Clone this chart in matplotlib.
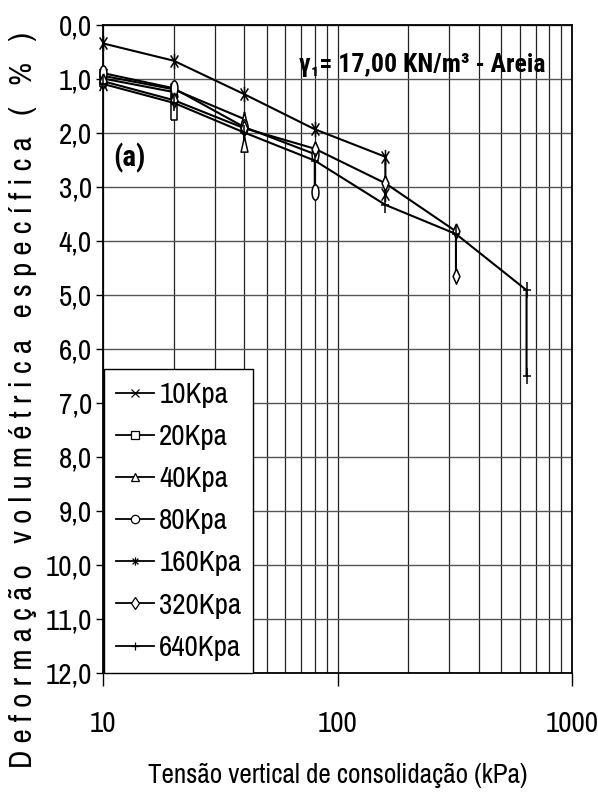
import numpy as np
import matplotlib
matplotlib.use("Agg")
import matplotlib.pyplot as plt
from matplotlib.path import Path
from matplotlib.lines import Line2D
from matplotlib.transforms import Affine2D

FONT = ['Archivo Narrow', 'Liberation Sans', 'DejaVu Sans']
BOLD = ['Roboto Condensed', 'Asap Condensed', 'DejaVu Sans']
plt.rcParams['font.family'] = FONT

# ---------------- data ----------------
labels = ['10Kpa', '20Kpa', '40Kpa', '80Kpa', '160Kpa', '320Kpa', '640Kpa']
x10 = [10, 10];                      y10 = [0.95, 1.08]
x20 = [10, 20, 20];                  y20 = [1.00, 1.25, 1.62]
x40 = [10, 20, 40, 40];              y40 = [0.95, 1.20, 1.75, 2.22]
x80 = [10, 20, 40, 80, 80];          y80 = [0.90, 1.18, 1.90, 2.40, 3.10]
x160 = [10, 20, 40, 80, 160, 160];   y160 = [0.35, 0.67, 1.29, 1.94, 2.45, 3.13]
x320 = [10, 20, 40, 80, 160, 320, 320];        y320 = [1.05, 1.40, 1.92, 2.30, 2.94, 3.83, 4.65]
x640 = [10, 20, 40, 80, 160, 320, 640, 640];   y640 = [1.10, 1.45, 2.00, 2.52, 3.34, 3.88, 4.92, 6.50]
ytick_vals = list(range(0, 13))
ytick_labels = [f"{v},0" for v in ytick_vals]
xtick_vals = [10, 100, 1000]
xtick_labels = ['10', '100', '1000']

# ---------------- markers ----------------
M, L = Path.MOVETO, Path.LINETO
w = 0.5
mk_x = Path([(-w, -1), (w, 1), (-w, 1), (w, -1)], [M, L, M, L])
mk_star = Path([(-w, -0.8), (w, 0.8), (-w, 0.8), (w, -0.8), (0, -1), (0, 1)], [M, L, M, L, M, L])
mk_plus = Path([(0, -1), (0, 1), (-w, 0), (w, 0)], [M, L, M, L])
mk_sq = Path([(-0.42, -1), (0.42, -1), (0.42, 1), (-0.42, 1), (-0.42, -1)])
mk_tri = Path([(0, 1), (0.45, -1), (-0.45, -1), (0, 1)])
mk_dia = Path([(0, 1), (0.45, 0), (0, -1), (-0.45, 0), (0, 1)])
mk_ell = Affine2D().scale(0.45, 1).transform_path(Path.unit_circle())
mk_star_eq = Path([(-0.7, -0.7), (0.7, 0.7), (-0.7, 0.7), (0.7, -0.7), (0, -1), (0, 1)], [M, L, M, L, M, L])

series = [
    (x10, y10, mk_x, 'x'),
    (x20, y20, mk_sq, 's'),
    (x40, y40, mk_tri, '^'),
    (x80, y80, mk_ell, 'o'),
    (x160, y160, mk_star, mk_star_eq),
    (x320, y320, mk_dia, 'd'),
    (x640, y640, mk_plus, '+'),
]

fig = plt.figure(figsize=(5.98, 7.96), dpi=100)
ax = fig.add_axes([103 / 598, 1 - 672.5 / 796, (572 - 103) / 598, (672.5 - 24.5) / 796])

ax.set_xscale('log')
ax.set_xlim(10, 1000)
ax.set_ylim(12, 0)

ax.set_yticks(ytick_vals)
ax.set_yticklabels(ytick_labels)
ax.set_xticks(xtick_vals)
ax.set_xticklabels(xtick_labels)
ax.xaxis.set_minor_locator(matplotlib.ticker.LogLocator(base=10, subs=np.arange(2, 10)))
ax.xaxis.set_minor_formatter(matplotlib.ticker.NullFormatter())
ax.grid(True, which='both', axis='x', color='#222222', lw=0.9)
ax.grid(True, which='major', axis='y', color='#555555', lw=1.0)
ax.set_axisbelow(True)

ax.tick_params(axis='y', which='major', direction='out', length=5, width=1, labelsize=21, pad=3)
ax.tick_params(axis='x', which='major', direction='out', length=9, width=1, labelsize=21, pad=18)
ax.tick_params(axis='x', which='minor', length=0)
for s in ax.spines.values():
    s.set_color('black')
    s.set_linewidth(1.3)

handles = []
for (xs, ys, mk, lmk), lab in zip(series, labels):
    ax.plot(xs, ys, color='black', lw=1.5, marker=mk, markersize=11,
            markerfacecolor='white', markeredgecolor='black', markeredgewidth=1.1,
            clip_on=False, zorder=3)
    handles.append(Line2D([], [], color='black', lw=1.3, marker=lmk, markersize=6,
                          markerfacecolor='white', markeredgecolor='black', markeredgewidth=0.9))

leg = ax.legend(handles, labels, loc='lower left', bbox_to_anchor=(0.002, 0.0),
                borderaxespad=0, frameon=True, fancybox=False, fontsize=21,
                handlelength=1.3, handletextpad=0.2, labelspacing=0.52,
                borderpad=0.4, edgecolor='black', framealpha=1)
leg.get_frame().set_linewidth(1.0)

ax.text(0.418, 0.937, "γ₁= 17,00 KN/m³ - Areia", transform=ax.transAxes,
        fontsize=18.5, fontweight='bold', family=BOLD, ha='left', va='center')
ax.text(0.022, 0.794, "(a)", transform=ax.transAxes, fontsize=21, fontweight='bold',
        family=BOLD, ha='left', va='center')

ylab = "Deformação volumétrica específica ( % )"
spaced = "   ".join(" ".join(list(wd)) for wd in ylab.split(" "))
fig.text(0.038, 0.497, spaced, rotation=90, fontsize=22.5, ha='center', va='center')
fig.text(338 / 598, 1 - 775 / 796, "Tensão vertical de consolidação (kPa)",
         fontsize=19.5, ha='center', va='center')

fig.savefig('out.png', dpi=100)
